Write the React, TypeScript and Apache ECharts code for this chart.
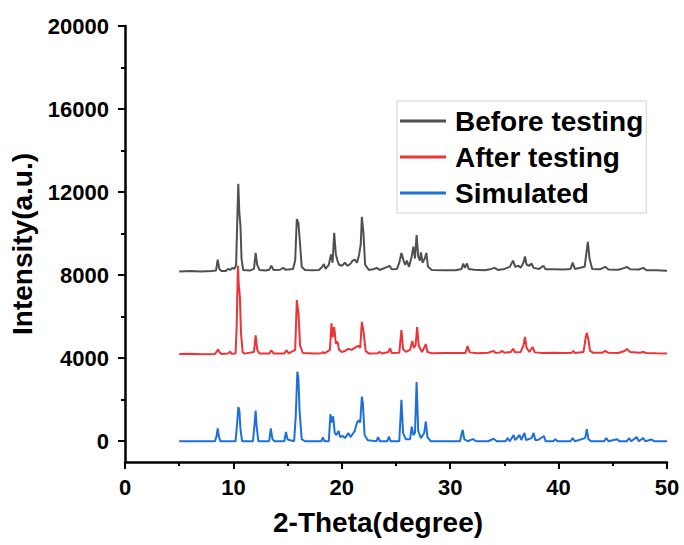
import React, { useEffect, useRef } from "react";
import * as echarts from "echarts";

const FONT = "'Liberation Sans', Arial, Helvetica, sans-serif";

const seriesNames = ["Before testing", "After testing", "Simulated"];
const seriesColors = ["#505050", "#ec3338", "#1f6fda"];

const yMajorTicks = [0, 4000, 8000, 12000, 16000, 20000];
const yMinorTicks = [2000, 6000, 10000, 14000, 18000];

// [2-theta, intensity]
const beforeTesting: [number, number][] = [
  [5, 8180], [6, 8200], [7, 8170], [8, 8200], [8.4, 8220], [8.55, 8750], [8.7, 8300], [8.9, 8200],
  [9.3, 8200], [9.5, 8300], [9.7, 8250], [9.9, 8350], [10.1, 8300], [10.25, 8500], [10.35, 10500],
  [10.45, 12400], [10.55, 11000], [10.65, 10400], [10.75, 8800], [10.9, 8250], [11.5, 8220],
  [11.9, 8300], [12.05, 9070], [12.2, 8500], [12.4, 8250], [13.0, 8220], [13.3, 8260], [13.5, 8450],
  [13.7, 8250], [14.3, 8260], [14.6, 8350], [14.8, 8260], [15.5, 8300], [15.7, 8700], [15.85, 10700],
  [16.0, 10500], [16.15, 9500], [16.3, 8400], [16.6, 8250], [17.3, 8230], [17.9, 8250], [18.2, 8400],
  [18.35, 8530], [18.5, 8300], [18.8, 8500], [19.0, 9000], [19.15, 8600], [19.3, 10040], [19.45, 9000],
  [19.6, 8700], [19.75, 8500], [20.0, 8450], [20.3, 8600], [20.5, 8450], [20.8, 8550], [21.0, 8700],
  [21.2, 8750], [21.4, 8600], [21.6, 9000], [21.75, 9500], [21.85, 10810], [22.0, 10000], [22.15, 8500],
  [22.5, 8250], [23.0, 8300], [23.2, 8350], [23.5, 8250], [24.2, 8400], [24.4, 8450], [24.6, 8280],
  [25.1, 8300], [25.3, 8600], [25.5, 9070], [25.7, 8700], [25.85, 8500], [26.0, 8700], [26.2, 8400],
  [26.45, 8900], [26.6, 9370], [26.75, 8800], [26.9, 9930], [27.05, 8900], [27.2, 8700], [27.3, 9100],
  [27.45, 8600], [27.65, 8800], [27.8, 9070], [27.95, 8400], [28.3, 8250], [29.5, 8230], [30.5, 8240],
  [31.05, 8300], [31.2, 8560], [31.35, 8350], [31.55, 8560], [31.7, 8300], [32.2, 8260], [33.2, 8240],
  [33.8, 8300], [34.1, 8350], [34.4, 8250], [35.0, 8300], [35.5, 8400], [35.8, 8700], [36.0, 8400],
  [36.3, 8450], [36.5, 8350], [36.75, 8600], [36.9, 8900], [37.05, 8500], [37.3, 8450], [37.5, 8560],
  [37.7, 8350], [38.2, 8300], [38.6, 8450], [38.8, 8280], [39.5, 8280], [40.5, 8270], [41.1, 8300],
  [41.3, 8600], [41.5, 8300], [42.4, 8400], [42.55, 9000], [42.7, 9600], [42.85, 8800], [43.1, 8300],
  [43.8, 8280], [44.3, 8400], [44.6, 8270], [45.5, 8260], [46.1, 8350], [46.3, 8400], [46.6, 8280],
  [47.4, 8270], [47.8, 8350], [48.1, 8240], [49, 8230], [50, 8210],
];

const afterTesting: [number, number][] = [
  [5, 4200], [6, 4210], [7, 4190], [8.3, 4200], [8.5, 4350], [8.6, 4430], [8.7, 4300], [8.9, 4200],
  [9.5, 4220], [9.7, 4320], [9.85, 4210], [10.2, 4230], [10.3, 5500], [10.42, 8450], [10.5, 7500],
  [10.6, 6950], [10.7, 5200], [10.85, 4300], [11.0, 4220], [11.9, 4300], [12.05, 5100], [12.2, 4400],
  [12.4, 4220], [13.3, 4220], [13.5, 4380], [13.7, 4230], [14.7, 4230], [14.9, 4380], [15.1, 4230],
  [15.7, 4400], [15.85, 6800], [16.0, 6200], [16.15, 4600], [16.4, 4250], [17.5, 4230], [18.1, 4240],
  [18.25, 4300], [18.4, 4230], [18.9, 4400], [19.05, 5680], [19.15, 5000], [19.3, 5500], [19.45, 4700],
  [19.6, 4800], [19.75, 4400], [20.0, 4300], [20.3, 4350], [20.6, 4450], [20.9, 4400], [21.2, 4500],
  [21.5, 4600], [21.7, 4500], [21.85, 5750], [22.0, 5300], [22.2, 4350], [22.5, 4220], [23.3, 4240],
  [23.5, 4300], [23.7, 4230], [24.3, 4300], [24.45, 4480], [24.6, 4250], [25.3, 4260], [25.5, 5350],
  [25.65, 4450], [25.9, 4300], [26.3, 4400], [26.5, 4830], [26.65, 4500], [26.8, 4600], [26.95, 5500],
  [27.1, 4600], [27.4, 4300], [27.6, 4500], [27.75, 4680], [27.9, 4300], [28.3, 4240], [29.5, 4250],
  [31.4, 4250], [31.6, 4580], [31.8, 4280], [32.5, 4240], [33.5, 4260], [34.0, 4350], [34.2, 4250],
  [34.6, 4280], [34.8, 4350], [35.0, 4260], [35.6, 4300], [35.8, 4450], [36.0, 4280], [36.5, 4300],
  [36.75, 4600], [36.9, 5020], [37.05, 4500], [37.3, 4300], [37.6, 4540], [37.8, 4280], [38.5, 4250],
  [39.5, 4260], [40.5, 4250], [41.2, 4260], [41.35, 4350], [41.5, 4250], [42.3, 4300], [42.5, 5000],
  [42.6, 5220], [42.75, 4900], [42.9, 4350], [43.2, 4260], [44.0, 4260], [44.3, 4350], [44.6, 4260],
  [45.5, 4250], [46.1, 4350], [46.3, 4450], [46.6, 4300], [47.5, 4260], [47.8, 4300], [48.1, 4250],
  [49, 4240], [50, 4230],
];

const simulated: [number, number][] = [
  [5, 0], [8.3, 0], [8.45, 250], [8.55, 620], [8.65, 250], [8.8, 0], [10.2, 0], [10.35, 900],
  [10.45, 1650], [10.55, 1500], [10.65, 600], [10.8, 0], [11.8, 0], [11.95, 800], [12.05, 1480],
  [12.15, 700], [12.3, 0], [13.3, 0], [13.45, 620], [13.6, 100], [13.8, 0], [14.7, 0], [14.85, 450],
  [15.0, 80], [15.6, 0], [15.75, 1200], [15.9, 3350], [16.0, 3000], [16.1, 1500], [16.3, 100], [16.6, 0],
  [18.1, 0], [18.25, 180], [18.4, 0], [18.8, 0], [18.95, 1300], [19.05, 900], [19.2, 1200], [19.35, 400],
  [19.5, 300], [19.7, 500], [19.85, 200], [20.1, 250], [20.3, 150], [20.6, 400], [20.8, 200], [21.0, 350],
  [21.2, 500], [21.4, 900], [21.55, 1000], [21.7, 900], [21.85, 2150], [21.95, 1800], [22.1, 300],
  [22.4, 50], [23.2, 0], [23.35, 200], [23.5, 0], [24.2, 0], [24.35, 220], [24.5, 0], [25.3, 0],
  [25.5, 2000], [25.65, 400], [25.9, 100], [26.3, 100], [26.45, 700], [26.6, 300], [26.75, 400],
  [26.9, 2850], [27.05, 500], [27.3, 150], [27.6, 400], [27.75, 950], [27.9, 200], [28.2, 0], [29, 0],
  [30.9, 0], [31.15, 550], [31.3, 100], [31.6, 0], [32.1, 100], [32.4, 0], [33.5, 0], [34, 120],
  [34.3, 0], [35.1, 0], [35.3, 150], [35.5, 0], [35.85, 300], [36.0, 50], [36.4, 300], [36.55, 60],
  [36.85, 400], [37.0, 60], [37.5, 150], [37.7, 400], [37.85, 60], [38.1, 60], [38.65, 250], [38.8, 0],
  [39.5, 0], [39.7, 100], [39.9, 0], [41.1, 0], [41.3, 150], [41.5, 0], [42.45, 150], [42.6, 580],
  [42.75, 100], [43.0, 0], [44.2, 0], [44.4, 150], [44.6, 0], [45.4, 100], [45.6, 0], [46.3, 0],
  [46.5, 150], [46.7, 0], [47.2, 200], [47.4, 0], [47.8, 150], [48, 0], [48.6, 80], [48.8, 0], [50, 0],
];

const seriesData = [beforeTesting, afterTesting, simulated];

export default function App() {
  const ref = useRef<HTMLDivElement>(null);
  useEffect(() => {
    if (!ref.current) return;
    const chart = echarts.init(ref.current, null, { renderer: "svg" });
    const axisLineStyle = { color: "#000", width: 2.5 };
    const labelStyle = { fontFamily: FONT, fontWeight: "bold" as const, fontSize: 22, color: "#000" };
    const nameStyle = { fontFamily: FONT, fontWeight: "bold" as const, fontSize: 28, color: "#000" };
    const plain = (v: number) => String(v);
    chart.setOption({
      animation: false,
      backgroundColor: "#fff",
      grid: { left: 125, right: 17, top: 26, bottom: 83, containLabel: false },
      legend: {
        orient: "vertical",
        left: 397,
        top: 101,
        padding: [5, 3, 5, 3],
        itemGap: 6,
        itemWidth: 46,
        itemHeight: 3,
        icon: "rect",
        borderColor: "#d0d0d0",
        borderWidth: 1,
        backgroundColor: "#fff",
        data: seriesNames,
        textStyle: { ...nameStyle, lineHeight: 30, padding: [0, 0, 0, 4] },
      },
      xAxis: {
        type: "value",
        min: 0,
        max: 50,
        interval: 10,
        name: "2-Theta(degree)",
        nameLocation: "middle",
        nameGap: 46,
        nameTextStyle: { ...nameStyle, padding: [0, 36, 0, 0] },
        axisLine: { show: true, onZero: false, lineStyle: axisLineStyle },
        axisTick: { show: true, length: 7, lineStyle: { color: "#000", width: 2 } },
        minorTick: { show: true, splitNumber: 2, length: 4, lineStyle: { color: "#000", width: 2 } },
        axisLabel: { ...labelStyle, margin: 14, formatter: plain },
        splitLine: { show: false },
        minorSplitLine: { show: false },
      },
      yAxis: [
        {
          type: "value",
          min: -1000,
          max: 20000,
          position: "left",
          name: "Intensity(a.u.)",
          nameLocation: "middle",
          nameGap: 80,
          nameTextStyle: nameStyle,
          axisLine: { show: true, onZero: false, lineStyle: axisLineStyle },
          axisTick: { show: true, length: 7, customValues: yMajorTicks, lineStyle: { color: "#000", width: 2 } },
          axisLabel: { ...labelStyle, margin: 16, customValues: yMajorTicks, formatter: plain },
          splitLine: { show: false },
        },
        {
          type: "value",
          min: -1000,
          max: 20000,
          position: "left",
          axisLine: { show: false },
          axisTick: { show: true, length: 4, customValues: yMinorTicks, lineStyle: { color: "#000", width: 2 } },
          axisLabel: { show: false },
          splitLine: { show: false },
        },
      ],
      series: seriesNames.map((name, i) => ({
        name,
        type: "line",
        yAxisIndex: 0,
        data: seriesData[i],
        symbol: "none",
        showSymbol: false,
        lineStyle: { color: seriesColors[i], width: 2 },
        itemStyle: { color: seriesColors[i] },
        z: 2 + i,
      })),
    });
    return () => chart.dispose();
  }, []);
  return (
    <div
      ref={ref}
      style={{ position: "fixed", left: 0, top: 0, width: 684, height: 545 }}
    />
  );
}
